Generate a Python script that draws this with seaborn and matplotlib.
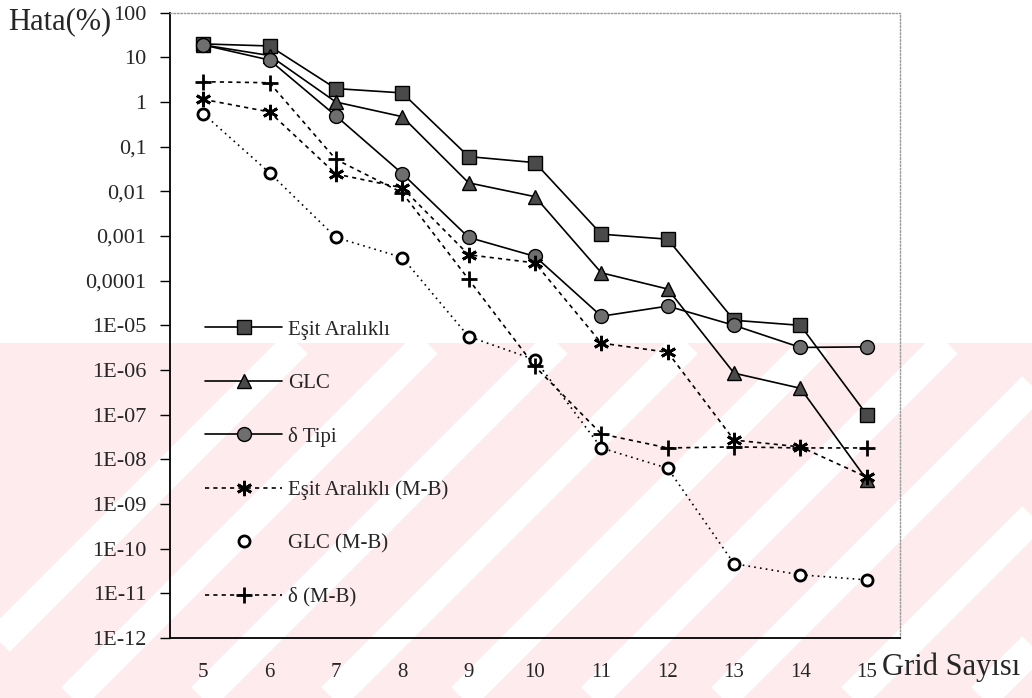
import numpy as np
import pandas as pd
import matplotlib
matplotlib.use("Agg")
import matplotlib.pyplot as plt
from matplotlib.lines import Line2D
from matplotlib.patches import Rectangle
import matplotlib.ticker as mticker
import seaborn as sns

# grid counts and error values (%)
grid = [5, 6, 7, 8, 9, 10, 11, 12, 13, 14, 15]
esit = [20, 18, 2.0, 1.6, 0.06, 0.044, 1.1e-3, 8.5e-4, 1.3e-5, 1.0e-5, 1.0e-7]
glc = [19, 11, 1.0, 0.47, 0.0155, 0.0076, 1.5e-4, 6.5e-5, 8.5e-7, 3.9e-7, 3.5e-9]
delta = [19, 8.7, 0.49, 0.025, 9.3e-4, 3.5e-4, 1.6e-5, 2.7e-5, 1.0e-5, 3.2e-6, 3.3e-6]
esit_mb = [1.15, 0.6, 0.0245, 0.012, 3.8e-4, 2.5e-4, 4.0e-6, 2.5e-6, 2.7e-8, 1.9e-8, 4e-9]
glc_mb = [0.55, 0.026, 9.3e-4, 3.3e-4, 5.6e-6, 1.7e-6, 1.8e-8, 6.3e-9, 4.6e-11, 2.6e-11, 2.0e-11]
delta_mb = [2.85, 2.7, 0.052, 0.0093, 1.07e-4, 1.2e-6, 3.7e-8, 1.8e-8, 1.9e-8, 1.8e-8, 1.8e-8]

labels = ["Eşit Aralıklı", "GLC", "δ Tipi", "Eşit Aralıklı (M-B)", "GLC (M-B)", "δ (M-B)"]
ytick_labels = ["1E-12", "1E-11", "1E-10", "1E-09", "1E-08", "1E-07", "1E-06", "1E-05",
                "0,0001", "0,001", "0,01", "0,1", "1", "10", "100"]

sns.set_style("white")
plt.rcParams['font.family'] = ['Liberation Serif', 'DejaVu Serif']

fig = plt.figure(figsize=(10.32, 6.98), dpi=100)

# faint pink watermark in the lower part of the scan (pixel coordinates)
bg = fig.add_axes([0, 0, 1, 1], zorder=-1)
bg.set_xlim(0, 1032)
bg.set_ylim(698, 0)
bg.axis("off")
clip = Rectangle((0, 343), 1032, 355, facecolor="#fdebee", edgecolor="none")
bg.add_patch(clip)
for c in range(640, 1800, 130):
    ln, = bg.plot([c - 343, c - 698], [343, 698], color="white", lw=22,
                  solid_capstyle="butt")
    ln.set_clip_path(clip)

ax = fig.add_axes([170/1032, 1 - 638/698, 730/1032, (638-12.7)/698])
ax.set_facecolor("none")

series = [esit, glc, delta, esit_mb, glc_mb, delta_mb]
styles = [
    dict(marker="s", ms=10, mfc="#4a4a4a", mec="k", mew=1, ls="-", lw=1.2),
    dict(marker="^", ms=10, mfc="#4a4a4a", mec="k", mew=1, ls="-", lw=1.2),
    dict(marker="o", ms=10, mfc="#6e6e6e", mec="k", mew=1, ls="-", lw=1.2),
    dict(marker=(6, 2, 0), ms=11, mfc="k", mec="k", mew=2, ls=(0, (2.5, 2.5)), lw=1.2),
    dict(marker="o", ms=8, mfc="white", mec="k", mew=2, ls=(0, (1, 2.5)), lw=1.2),
    dict(marker="+", ms=12, mfc="k", mec="k", mew=2, ls=(0, (2.5, 2.5)), lw=1.2),
]

for vals, lab, st in zip(series, labels, styles):
    df = pd.DataFrame({"grid": grid, "hata": vals})
    sns.lineplot(data=df, x="grid", y="hata", color="k", legend=False, ax=ax, **st)

ax.set_yscale("log")
ax.set_ylim(1e-12, 100)
ax.set_xlim(4.5, 15.5)
ax.yaxis.set_major_locator(mticker.FixedLocator([10.0**k for k in range(-12, 3)]))
ax.yaxis.set_major_formatter(mticker.FixedFormatter(ytick_labels))
ax.yaxis.set_minor_locator(mticker.NullLocator())
ax.set_xticks(grid)
ax.set_xticklabels([str(g) for g in grid])
ax.set_xticks([6.5, 8.5, 10.5, 12.5, 14.5], minor=True)
ax.tick_params(axis="x", which="major", length=0, pad=18, labelsize=15)
ax.tick_params(axis="x", which="minor", length=5, width=1, direction="out", color="k")
ax.tick_params(axis="y", which="major", length=7, width=1, direction="out", pad=10,
               labelsize=16, color="k", left=True)
ax.set_xlabel("")
ax.set_ylabel("")
for s in ["left", "bottom"]:
    ax.spines[s].set_color("k")
    ax.spines[s].set_linewidth(1.3)
for s in ["top", "right"]:
    ax.spines[s].set_color("#9a9a9a")
    ax.spines[s].set_linewidth(1)
    ax.spines[s].set_linestyle((0, (1, 1.5)))

fig.text(8/1032, 1 - 22/698, "Hata(%)", fontsize=22, va="center", ha="left")
fig.text(882/1032, 1 - 667/698, "Grid Sayısı", fontsize=22, va="center", ha="left")

handles = []
for i, st in enumerate(styles):
    h = dict(st)
    if i == 4:
        h["ls"] = "none"
    handles.append(Line2D([], [], color="k", **h))
ax.legend(handles, labels, loc="upper left", bbox_to_anchor=(35/730, (638-320)/625.3),
          frameon=False, fontsize=15, handlelength=3.7, handletextpad=0.3,
          labelspacing=1.62, borderpad=0, borderaxespad=0)

fig.savefig("out.png", dpi=100)
